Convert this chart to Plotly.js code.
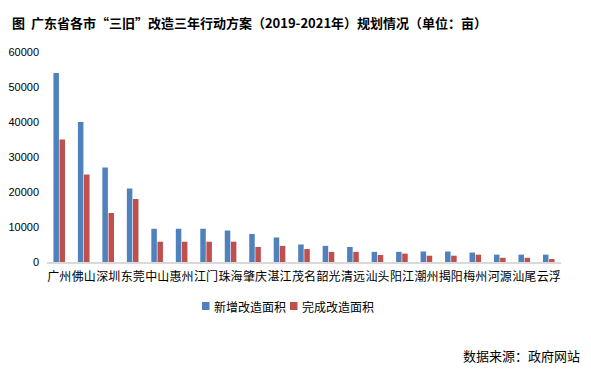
<!DOCTYPE html>
<html><head><meta charset="utf-8">
<script src="https://cdn.plot.ly/plotly-3.0.1.min.js"></script>
<style>html,body{margin:0;padding:0;background:#fff}#chart{width:591px;height:369px}</style>
</head><body><div id="chart"></div>
<script>
const cities = ['广州','佛山','深圳','东莞','中山','惠州','江门','珠海','肇庆','湛江','茂名','韶光','清远','汕头','阳江','潮州','揭阳','梅州','河源','汕尾','云浮'];
const newArea = [54000,40000,27000,21000,9500,9500,9500,9000,8000,7000,5000,4600,4300,2900,2900,3000,3000,2700,2100,2100,2100];
const doneArea = [35000,25000,14000,18000,5800,5800,5800,5800,4300,4600,3700,2900,2900,2000,2400,1800,1800,2100,1200,1200,850];
const seriesNames = ['新增改造面积','完成改造面积'];
const seriesColors = ['#4F81BD','#C0504D'];
const yTicks = [0,10000,20000,30000,40000,50000,60000];
const titleText = '图  广东省各市“三旧”改造三年行动方案（2019-2021年）规划情况（单位：亩）';
const sourceText = '数据来源：政府网站';

const cjk = '"Noto Sans CJK SC", "Noto Sans", sans-serif';
const W = 591, H = 369, M = {l:47, r:30, t:52, b:107};
const pw = W - M.l - M.r, ph = H - M.t - M.b;
const px = v => (v - M.l) / pw;          // pixel x -> paper
const py = v => (H - M.b - v) / ph;      // pixel y -> paper

const data = seriesNames.map((n, i) => ({
  type:'bar', name:n, x:cities, y:[newArea, doneArea][i], marker:{color:seriesColors[i]}
}));

// hand-placed legend (compact like the original)
const legendX = [202, 290];
const shapes = [], annotations = [];
seriesNames.forEach((n, i) => {
  shapes.push({type:'rect', xref:'paper', yref:'paper', x0:px(legendX[i]), x1:px(legendX[i]+7.5),
               y0:py(310), y1:py(302), fillcolor:seriesColors[i], line:{width:0}});
  annotations.push({text:n, xref:'paper', yref:'paper', x:px(legendX[i]+10), xanchor:'left',
                    y:py(306), yanchor:'middle', showarrow:false, font:{family:cjk, size:12, color:'#000'}});
});
annotations.push({text:sourceText, xref:'paper', yref:'paper', x:px(582), xanchor:'right', y:py(355), yanchor:'middle',
                  showarrow:false, font:{family:cjk, size:13, color:'#000'}});

const layout = {
  width:W, height:H,
  margin:{l:M.l, r:M.r, t:M.t, b:M.b, pad:0},
  paper_bgcolor:'#fff', plot_bgcolor:'#fff',
  barmode:'group', bargap:0.5, bargroupgap:0.1,
  font:{family:cjk, color:'#000'},
  title:{text:'<b>'+titleText+'</b>', x:12/W, xanchor:'left', y:1-23/H, yanchor:'middle', font:{family:cjk, size:13, color:'#000'}},
  xaxis:{showgrid:false, showline:true, linecolor:'#d9d9d9', linewidth:1.5, ticks:'', tickangle:0,
         tickfont:{family:cjk, size:12, color:'#000'}, ticklabelstandoff:3, fixedrange:true},
  yaxis:{range:[0,60000], tickvals:yTicks, ticktext:yTicks.map(String), showgrid:false, zeroline:false, showline:false, ticks:'',
         tickfont:{family:'"Liberation Sans", Arial, sans-serif', size:11, color:'#000'}, ticklabelstandoff:7, fixedrange:true},
  showlegend:false,
  shapes, annotations
};
Plotly.newPlot('chart', data, layout, {displayModeBar:false, staticPlot:true});
</script></body></html>
